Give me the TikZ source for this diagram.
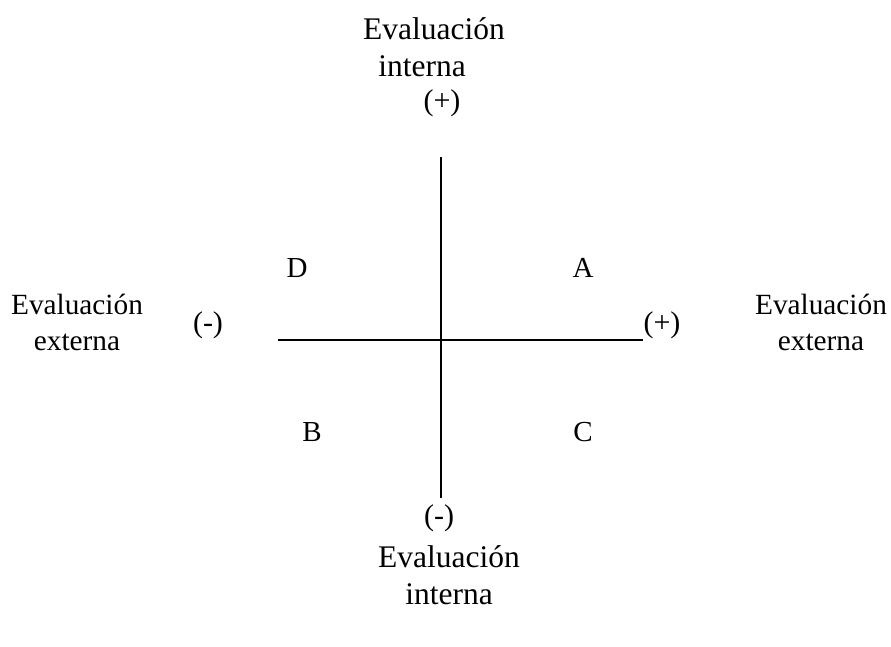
\documentclass[tikz,border=0pt]{standalone}
\usepackage{fontspec}
\setmainfont{Liberation Serif}
\usetikzlibrary{positioning}
\tikzset{
  axisline/.style={line width=2.4pt, color=black},
  sidelbl/.style={inner sep=0pt, align=center, font=\fontsize{29.3}{36}\selectfont},
  vertlbl/.style={inner sep=0pt, align=center, font=\fontsize{31.5}{37}\selectfont},
  signlbl/.style={inner sep=0pt, font=\fontsize{30}{36}\selectfont},
  quadlbl/.style={inner sep=0pt, font=\fontsize{29}{36}\selectfont}
}
\begin{document}
\begin{tikzpicture}[x=1pt, y=1pt]
  \useasboundingbox (0,0) rectangle (891,646);

  % Axis end points
  \coordinate (top) at (441,489);
  \coordinate (bottom) at (441,148);
  \coordinate (left) at (278,306);
  \coordinate (right) at (643,306);

  % Axes
  \draw[axisline] (top) -- (bottom);
  \draw[axisline] (left) -- (right);

  % Internal evaluation (vertical axis)
  \node[vertlbl] (intTop) at (434,599) {Evaluación\\interna\hspace*{24pt}};
  \node[signlbl] (plusTop) at (442,543) {(+)};
  \node[signlbl] (minusBot) at (439,128) {(-)};
  \node[vertlbl] (intBot) at (449,71) {Evaluación\\interna};

  % External evaluation (horizontal axis)
  \node[sidelbl] (extLeft) at (77,324) {Evaluación\\externa};
  \node[signlbl] (minusLeft) at (208,321) {(-)};
  \node[signlbl] (plusRight) at (662,321) {(+)};
  \node[sidelbl] (extRight) at (821,324) {Evaluación\\externa};

  % Quadrants
  \node[quadlbl] (qD) at (297,378) {D};
  \node[quadlbl] (qA) at (583,378) {A};
  \node[quadlbl] (qB) at (312,214) {B};
  \node[quadlbl] (qC) at (583,214) {C};
\end{tikzpicture}
\end{document}
